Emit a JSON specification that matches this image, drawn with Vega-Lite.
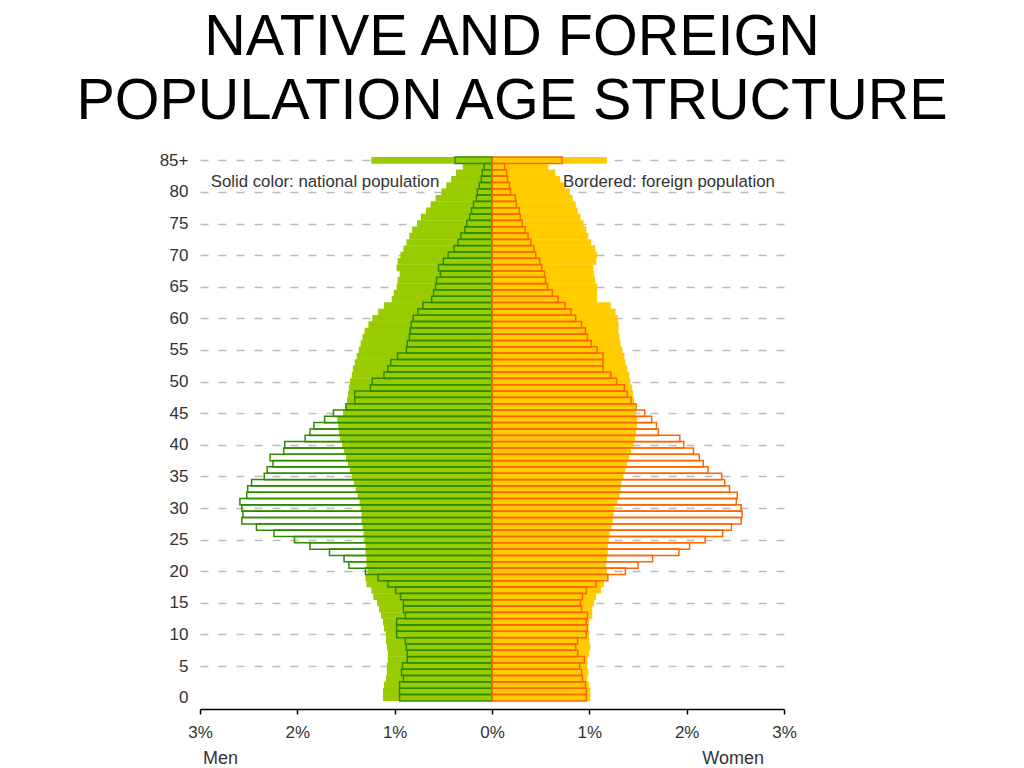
{
  "$schema": "https://vega.github.io/schema/vega-lite/v6.json",
  "width": 584,
  "height": 560,
  "autosize": "none",
  "padding": {"left": 200, "top": 149, "right": 240, "bottom": 59},
  "background": "white",
  "title": {
    "text": ["NATIVE AND FOREIGN", "POPULATION AGE STRUCTURE"],
    "fontSize": 57.5,
    "font": "Liberation Sans",
    "fontWeight": "normal",
    "color": "#000000",
    "lineHeight": 64,
    "anchor": "middle",
    "dx": 20,
    "offset": 18
  },
  "config": {
    "view": {"stroke": null},
    "axis": {"labelFont": "Liberation Sans", "labelColor": "#333333", "labelFontSize": 17}
  },
  "datasets": {
    "pyr": [
      {"age": 85, "mn": -1.24, "mf": -0.38, "wn": 1.18, "wf": 0.72},
      {"age": 84, "mn": -0.30, "mf": -0.08, "wn": 0.58, "wf": 0.13},
      {"age": 83, "mn": -0.37, "mf": -0.10, "wn": 0.65, "wf": 0.15},
      {"age": 82, "mn": -0.42, "mf": -0.11, "wn": 0.70, "wf": 0.16},
      {"age": 81, "mn": -0.47, "mf": -0.13, "wn": 0.75, "wf": 0.18},
      {"age": 80, "mn": -0.52, "mf": -0.15, "wn": 0.80, "wf": 0.19},
      {"age": 79, "mn": -0.58, "mf": -0.16, "wn": 0.83, "wf": 0.24},
      {"age": 78, "mn": -0.63, "mf": -0.19, "wn": 0.86, "wf": 0.25},
      {"age": 77, "mn": -0.68, "mf": -0.21, "wn": 0.88, "wf": 0.28},
      {"age": 76, "mn": -0.73, "mf": -0.23, "wn": 0.91, "wf": 0.29},
      {"age": 75, "mn": -0.77, "mf": -0.26, "wn": 0.94, "wf": 0.31},
      {"age": 74, "mn": -0.82, "mf": -0.28, "wn": 0.97, "wf": 0.34},
      {"age": 73, "mn": -0.85, "mf": -0.32, "wn": 0.99, "wf": 0.37},
      {"age": 72, "mn": -0.88, "mf": -0.35, "wn": 1.02, "wf": 0.40},
      {"age": 71, "mn": -0.91, "mf": -0.39, "wn": 1.06, "wf": 0.43},
      {"age": 70, "mn": -0.94, "mf": -0.45, "wn": 1.08, "wf": 0.45},
      {"age": 69, "mn": -0.97, "mf": -0.50, "wn": 1.07, "wf": 0.49},
      {"age": 68, "mn": -0.98, "mf": -0.55, "wn": 1.04, "wf": 0.51},
      {"age": 67, "mn": -0.95, "mf": -0.53, "wn": 1.05, "wf": 0.54},
      {"age": 66, "mn": -0.97, "mf": -0.57, "wn": 1.06, "wf": 0.55},
      {"age": 65, "mn": -0.98, "mf": -0.58, "wn": 1.08, "wf": 0.57},
      {"age": 64, "mn": -1.01, "mf": -0.60, "wn": 1.08, "wf": 0.62},
      {"age": 63, "mn": -1.03, "mf": -0.62, "wn": 1.08, "wf": 0.68},
      {"age": 62, "mn": -1.11, "mf": -0.71, "wn": 1.22, "wf": 0.75},
      {"age": 61, "mn": -1.17, "mf": -0.76, "wn": 1.27, "wf": 0.81},
      {"age": 60, "mn": -1.23, "mf": -0.81, "wn": 1.29, "wf": 0.86},
      {"age": 59, "mn": -1.27, "mf": -0.83, "wn": 1.30, "wf": 0.92},
      {"age": 58, "mn": -1.31, "mf": -0.84, "wn": 1.30, "wf": 0.96},
      {"age": 57, "mn": -1.33, "mf": -0.85, "wn": 1.31, "wf": 0.98},
      {"age": 56, "mn": -1.35, "mf": -0.87, "wn": 1.32, "wf": 1.02},
      {"age": 55, "mn": -1.37, "mf": -0.88, "wn": 1.34, "wf": 1.08},
      {"age": 54, "mn": -1.39, "mf": -0.97, "wn": 1.36, "wf": 1.14},
      {"age": 53, "mn": -1.41, "mf": -1.04, "wn": 1.37, "wf": 1.14},
      {"age": 52, "mn": -1.43, "mf": -1.07, "wn": 1.39, "wf": 1.14},
      {"age": 51, "mn": -1.44, "mf": -1.11, "wn": 1.41, "wf": 1.22},
      {"age": 50, "mn": -1.46, "mf": -1.23, "wn": 1.42, "wf": 1.28},
      {"age": 49, "mn": -1.47, "mf": -1.25, "wn": 1.44, "wf": 1.36},
      {"age": 48, "mn": -1.48, "mf": -1.41, "wn": 1.45, "wf": 1.39},
      {"age": 47, "mn": -1.49, "mf": -1.41, "wn": 1.46, "wf": 1.43},
      {"age": 46, "mn": -1.51, "mf": -1.50, "wn": 1.47, "wf": 1.48},
      {"age": 45, "mn": -1.53, "mf": -1.63, "wn": 1.48, "wf": 1.57},
      {"age": 44, "mn": -1.59, "mf": -1.72, "wn": 1.49, "wf": 1.64},
      {"age": 43, "mn": -1.58, "mf": -1.83, "wn": 1.49, "wf": 1.69},
      {"age": 42, "mn": -1.57, "mf": -1.87, "wn": 1.48, "wf": 1.71},
      {"age": 41, "mn": -1.56, "mf": -1.92, "wn": 1.47, "wf": 1.93},
      {"age": 40, "mn": -1.54, "mf": -2.13, "wn": 1.45, "wf": 1.97},
      {"age": 39, "mn": -1.52, "mf": -2.14, "wn": 1.43, "wf": 2.07},
      {"age": 38, "mn": -1.50, "mf": -2.28, "wn": 1.41, "wf": 2.13},
      {"age": 37, "mn": -1.48, "mf": -2.25, "wn": 1.39, "wf": 2.17},
      {"age": 36, "mn": -1.46, "mf": -2.31, "wn": 1.37, "wf": 2.22},
      {"age": 35, "mn": -1.44, "mf": -2.34, "wn": 1.35, "wf": 2.36},
      {"age": 34, "mn": -1.42, "mf": -2.47, "wn": 1.33, "wf": 2.39},
      {"age": 33, "mn": -1.40, "mf": -2.51, "wn": 1.32, "wf": 2.44},
      {"age": 32, "mn": -1.38, "mf": -2.52, "wn": 1.31, "wf": 2.52},
      {"age": 31, "mn": -1.36, "mf": -2.59, "wn": 1.29, "wf": 2.51},
      {"age": 30, "mn": -1.35, "mf": -2.57, "wn": 1.26, "wf": 2.56},
      {"age": 29, "mn": -1.34, "mf": -2.56, "wn": 1.25, "wf": 2.57},
      {"age": 28, "mn": -1.34, "mf": -2.57, "wn": 1.24, "wf": 2.56},
      {"age": 27, "mn": -1.33, "mf": -2.42, "wn": 1.23, "wf": 2.46},
      {"age": 26, "mn": -1.32, "mf": -2.24, "wn": 1.21, "wf": 2.37},
      {"age": 25, "mn": -1.31, "mf": -2.03, "wn": 1.20, "wf": 2.19},
      {"age": 24, "mn": -1.30, "mf": -1.87, "wn": 1.19, "wf": 2.03},
      {"age": 23, "mn": -1.30, "mf": -1.67, "wn": 1.19, "wf": 1.92},
      {"age": 22, "mn": -1.29, "mf": -1.52, "wn": 1.18, "wf": 1.65},
      {"age": 21, "mn": -1.29, "mf": -1.47, "wn": 1.17, "wf": 1.50},
      {"age": 20, "mn": -1.28, "mf": -1.30, "wn": 1.18, "wf": 1.37},
      {"age": 19, "mn": -1.30, "mf": -1.17, "wn": 1.18, "wf": 1.19},
      {"age": 18, "mn": -1.29, "mf": -1.07, "wn": 1.15, "wf": 1.07},
      {"age": 17, "mn": -1.24, "mf": -0.99, "wn": 1.12, "wf": 0.97},
      {"age": 16, "mn": -1.22, "mf": -0.94, "wn": 1.07, "wf": 0.93},
      {"age": 15, "mn": -1.18, "mf": -0.91, "wn": 1.05, "wf": 0.91},
      {"age": 14, "mn": -1.16, "mf": -0.91, "wn": 1.03, "wf": 0.92},
      {"age": 13, "mn": -1.14, "mf": -0.89, "wn": 1.03, "wf": 0.98},
      {"age": 12, "mn": -1.12, "mf": -0.98, "wn": 1.00, "wf": 0.97},
      {"age": 11, "mn": -1.11, "mf": -0.98, "wn": 0.99, "wf": 0.98},
      {"age": 10, "mn": -1.09, "mf": -0.98, "wn": 1.00, "wf": 0.97},
      {"age": 9, "mn": -1.09, "mf": -0.89, "wn": 1.00, "wf": 0.88},
      {"age": 8, "mn": -1.08, "mf": -0.88, "wn": 1.01, "wf": 0.86},
      {"age": 7, "mn": -1.07, "mf": -0.87, "wn": 1.00, "wf": 0.88},
      {"age": 6, "mn": -1.07, "mf": -0.87, "wn": 0.98, "wf": 0.95},
      {"age": 5, "mn": -1.08, "mf": -0.92, "wn": 0.98, "wf": 0.90},
      {"age": 4, "mn": -1.08, "mf": -0.93, "wn": 0.99, "wf": 0.92},
      {"age": 3, "mn": -1.09, "mf": -0.91, "wn": 0.98, "wf": 0.93},
      {"age": 2, "mn": -1.11, "mf": -0.95, "wn": 1.00, "wf": 0.96},
      {"age": 1, "mn": -1.12, "mf": -0.95, "wn": 1.01, "wf": 0.97},
      {"age": 0, "mn": -1.12, "mf": -0.95, "wn": 1.01, "wf": 0.97}
    ],
    "notes": [
      {"label": "Solid color: national population", "nx": -2.89, "ny": 81.65},
      {"label": "Bordered: foreign population", "nx": 0.73, "ny": 81.65}
    ],
    "sides": [
      {"label": "Men", "nx": -2.97, "ny": -9.75},
      {"label": "Women", "nx": 2.16, "ny": -9.75}
    ]
  },
  "layer": [
    {
      "data": {"name": "pyr"},
      "mark": {"type": "bar", "orient": "horizontal", "color": "#99CC00", "size": 6.7},
      "encoding": {
        "x": {
          "field": "mn", "type": "quantitative", "title": null,
          "scale": {"domain": [-3, 3], "nice": false, "zero": false},
          "axis": {
            "values": [-3, -2, -1, 0, 1, 2, 3],
            "labelExpr": "abs(datum.value) + '%'",
            "title": null, "grid": false, "labelFlush": false, "labelOverlap": false,
            "domainColor": "#000000", "domainWidth": 1.5,
            "tickColor": "#000000", "tickWidth": 1.5, "tickSize": 5,
            "labelPadding": 10
          }
        },
        "x2": {"datum": 0},
        "y": {
          "field": "age", "type": "quantitative", "title": null,
          "scale": {"domain": [-1, 86], "nice": false, "zero": false},
          "axis": {
            "values": [0, 5, 10, 15, 20, 25, 30, 35, 40, 45, 50, 55, 60, 65, 70, 75, 80, 85],
            "labelExpr": "datum.value == 85 ? '85+' : datum.label",
            "title": null, "domain": false, "ticks": false, "labelPadding": 12,
            "labelFlush": false, "labelOverlap": false, "labelBaseline": "middle",
            "grid": true, "gridDash": [8, 10], "gridColor": "#BBBBBB", "gridWidth": 1.5,
            "gridOpacity": {"condition": {"test": "datum.value == 0", "value": 0}, "value": 1}
          }
        }
      }
    },
    {
      "data": {"name": "pyr"},
      "mark": {"type": "bar", "orient": "horizontal", "color": "#FFCC00", "size": 6.7},
      "encoding": {
        "x": {"field": "wn", "type": "quantitative", "title": null, "scale": {"domain": [-3, 3], "nice": false, "zero": false},
          "axis": {
            "values": [-3, -2, -1, 0, 1, 2, 3],
            "labelExpr": "abs(datum.value) + '%'",
            "title": null, "grid": false, "labelFlush": false, "labelOverlap": false,
            "domainColor": "#000000", "domainWidth": 1.5,
            "tickColor": "#000000", "tickWidth": 1.5, "tickSize": 5,
            "labelPadding": 10
          }},
        "x2": {"datum": 0},
        "y": {"field": "age", "type": "quantitative", "title": null, "scale": {"domain": [-1, 86], "nice": false, "zero": false},
          "axis": {
            "values": [0, 5, 10, 15, 20, 25, 30, 35, 40, 45, 50, 55, 60, 65, 70, 75, 80, 85],
            "labelExpr": "datum.value == 85 ? '85+' : datum.label",
            "title": null, "domain": false, "ticks": false, "labelPadding": 12,
            "labelFlush": false, "labelOverlap": false, "labelBaseline": "middle",
            "grid": true, "gridDash": [8, 10], "gridColor": "#BBBBBB", "gridWidth": 1.5,
            "gridOpacity": {"condition": {"test": "datum.value == 0", "value": 0}, "value": 1}
          }}
      }
    },
    {
      "data": {"name": "pyr"},
      "mark": {"type": "bar", "orient": "horizontal", "fill": "transparent", "stroke": "#2E8B00", "strokeWidth": 1.5, "size": 6.44},
      "encoding": {
        "x": {"field": "mf", "type": "quantitative", "title": null, "scale": {"domain": [-3, 3], "nice": false, "zero": false},
          "axis": {
            "values": [-3, -2, -1, 0, 1, 2, 3],
            "labelExpr": "abs(datum.value) + '%'",
            "title": null, "grid": false, "labelFlush": false, "labelOverlap": false,
            "domainColor": "#000000", "domainWidth": 1.5,
            "tickColor": "#000000", "tickWidth": 1.5, "tickSize": 5,
            "labelPadding": 10
          }},
        "x2": {"datum": 0},
        "y": {"field": "age", "type": "quantitative", "title": null, "scale": {"domain": [-1, 86], "nice": false, "zero": false},
          "axis": {
            "values": [0, 5, 10, 15, 20, 25, 30, 35, 40, 45, 50, 55, 60, 65, 70, 75, 80, 85],
            "labelExpr": "datum.value == 85 ? '85+' : datum.label",
            "title": null, "domain": false, "ticks": false, "labelPadding": 12,
            "labelFlush": false, "labelOverlap": false, "labelBaseline": "middle",
            "grid": true, "gridDash": [8, 10], "gridColor": "#BBBBBB", "gridWidth": 1.5,
            "gridOpacity": {"condition": {"test": "datum.value == 0", "value": 0}, "value": 1}
          }}
      }
    },
    {
      "data": {"name": "pyr"},
      "mark": {"type": "bar", "orient": "horizontal", "fill": "transparent", "stroke": "#FF6600", "strokeWidth": 1.5, "size": 6.44},
      "encoding": {
        "x": {"field": "wf", "type": "quantitative", "title": null, "scale": {"domain": [-3, 3], "nice": false, "zero": false},
          "axis": {
            "values": [-3, -2, -1, 0, 1, 2, 3],
            "labelExpr": "abs(datum.value) + '%'",
            "title": null, "grid": false, "labelFlush": false, "labelOverlap": false,
            "domainColor": "#000000", "domainWidth": 1.5,
            "tickColor": "#000000", "tickWidth": 1.5, "tickSize": 5,
            "labelPadding": 10
          }},
        "x2": {"datum": 0},
        "y": {"field": "age", "type": "quantitative", "title": null, "scale": {"domain": [-1, 86], "nice": false, "zero": false},
          "axis": {
            "values": [0, 5, 10, 15, 20, 25, 30, 35, 40, 45, 50, 55, 60, 65, 70, 75, 80, 85],
            "labelExpr": "datum.value == 85 ? '85+' : datum.label",
            "title": null, "domain": false, "ticks": false, "labelPadding": 12,
            "labelFlush": false, "labelOverlap": false, "labelBaseline": "middle",
            "grid": true, "gridDash": [8, 10], "gridColor": "#BBBBBB", "gridWidth": 1.5,
            "gridOpacity": {"condition": {"test": "datum.value == 0", "value": 0}, "value": 1}
          }}
      }
    },
    {
      "mark": {"type": "rule", "color": "#000000", "strokeWidth": 2},
      "encoding": {"x": {"datum": 0, "scale": {"domain": [-3, 3], "nice": false, "zero": false}}}
    },
    {
      "data": {"name": "notes"},
      "mark": {"type": "text", "align": "left", "baseline": "middle", "font": "Liberation Sans", "fontSize": 16.8, "color": "#333333"},
      "encoding": {
        "x": {"field": "nx", "type": "quantitative", "title": null, "scale": {"domain": [-3, 3], "nice": false, "zero": false},
          "axis": {
            "values": [-3, -2, -1, 0, 1, 2, 3],
            "labelExpr": "abs(datum.value) + '%'",
            "title": null, "grid": false, "labelFlush": false, "labelOverlap": false,
            "domainColor": "#000000", "domainWidth": 1.5,
            "tickColor": "#000000", "tickWidth": 1.5, "tickSize": 5,
            "labelPadding": 10
          }},
        "y": {"field": "ny", "type": "quantitative", "title": null, "scale": {"domain": [-1, 86], "nice": false, "zero": false},
          "axis": {
            "values": [0, 5, 10, 15, 20, 25, 30, 35, 40, 45, 50, 55, 60, 65, 70, 75, 80, 85],
            "labelExpr": "datum.value == 85 ? '85+' : datum.label",
            "title": null, "domain": false, "ticks": false, "labelPadding": 12,
            "labelFlush": false, "labelOverlap": false, "labelBaseline": "middle",
            "grid": true, "gridDash": [8, 10], "gridColor": "#BBBBBB", "gridWidth": 1.5,
            "gridOpacity": {"condition": {"test": "datum.value == 0", "value": 0}, "value": 1}
          }},
        "text": {"field": "label"}
      }
    },
    {
      "data": {"name": "sides"},
      "mark": {"type": "text", "align": "left", "baseline": "middle", "font": "Liberation Sans", "fontSize": 18, "color": "#333333"},
      "encoding": {
        "x": {"field": "nx", "type": "quantitative", "title": null, "scale": {"domain": [-3, 3], "nice": false, "zero": false},
          "axis": {
            "values": [-3, -2, -1, 0, 1, 2, 3],
            "labelExpr": "abs(datum.value) + '%'",
            "title": null, "grid": false, "labelFlush": false, "labelOverlap": false,
            "domainColor": "#000000", "domainWidth": 1.5,
            "tickColor": "#000000", "tickWidth": 1.5, "tickSize": 5,
            "labelPadding": 10
          }},
        "y": {"field": "ny", "type": "quantitative", "title": null, "scale": {"domain": [-1, 86], "nice": false, "zero": false},
          "axis": {
            "values": [0, 5, 10, 15, 20, 25, 30, 35, 40, 45, 50, 55, 60, 65, 70, 75, 80, 85],
            "labelExpr": "datum.value == 85 ? '85+' : datum.label",
            "title": null, "domain": false, "ticks": false, "labelPadding": 12,
            "labelFlush": false, "labelOverlap": false, "labelBaseline": "middle",
            "grid": true, "gridDash": [8, 10], "gridColor": "#BBBBBB", "gridWidth": 1.5,
            "gridOpacity": {"condition": {"test": "datum.value == 0", "value": 0}, "value": 1}
          }},
        "text": {"field": "label"}
      }
    }
  ]
}
